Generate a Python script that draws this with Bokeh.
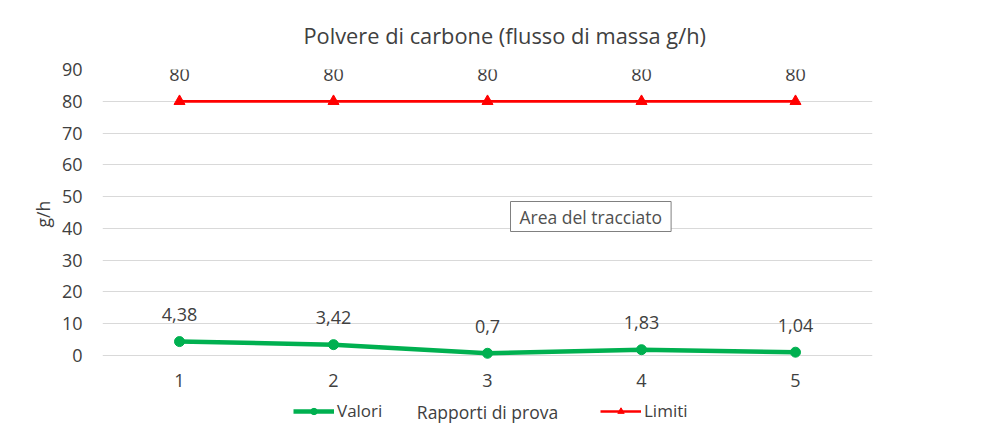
from bokeh.plotting import figure
from bokeh.models import ColumnDataSource, Legend, LegendItem, Label, Title
from bokeh.core.properties import value
from bokeh.embed import file_html
from bokeh.resources import INLINE

# ---- data ----
categories = ["1", "2", "3", "4", "5"]
valori = [4.38, 3.42, 0.7, 1.83, 1.04]
limiti = [80, 80, 80, 80, 80]
y_ticks = [0, 10, 20, 30, 40, 50, 60, 70, 80, 90]
title_text = "Polvere di carbone (flusso di massa g/h)"
x_title = "Rapporti di prova"
y_title = "g/h"
series_names = ["Valori", "Limiti"]
tooltip_text = "Area del tracciato"

def fmt(v):
    return ("%g" % v).replace(".", ",")

FONT = "Open Sans"
TXT = "#404040"
GREEN = "#00B050"
RED = "#FF0000"

# the plot frame is extended below 0 so that the legend row (Excel style,
# series entries around the axis title) can live inside it
Y_BOTTOM = -23.6

src_v = ColumnDataSource(dict(x=categories, y=valori, t=[fmt(v) for v in valori]))
src_l = ColumnDataSource(dict(x=categories, y=limiti, t=[fmt(v) for v in limiti]))
src_ticks = ColumnDataSource(dict(x=categories, y=[0] * len(categories), t=categories))

p = figure(x_range=categories, y_range=(Y_BOTTOM, 90), width=988, height=430,
           output_backend="svg", toolbar_location=None,
           min_border_left=102, min_border_right=116, min_border_top=69,
           min_border_bottom=0, title=title_text)
p.outline_line_color = None
p.background_fill_color = "white"
p.border_fill_color = "white"

p.title.text_font = FONT
p.title.text_font_size = "21.8px"
p.title.text_font_style = "normal"
p.title.text_color = TXT
p.title.align = "left"
p.title.offset = 201
p.title.standoff = 38
p.title.vertical_align = "middle"

# y axis
p.yaxis.ticker = y_ticks
p.yaxis.axis_line_color = None
p.yaxis.major_tick_line_color = None
p.yaxis.minor_tick_line_color = None
p.yaxis.major_label_standoff = 14
p.yaxis.major_label_text_font = FONT
p.yaxis.major_label_text_font_size = "18px"
p.yaxis.major_label_text_color = TXT

# y axis title, centred on the 0-90 part of the frame
p.add_layout(Title(text=y_title, align="left", offset=203, vertical_align="middle",
                   standoff=6, text_font=FONT, text_font_size="17.5px",
                   text_font_style="normal", text_color=TXT), "left")

# x axis: category labels drawn under the 0 line
p.xaxis.visible = False
p.xgrid.grid_line_color = None
p.ygrid.grid_line_color = "#d9d9d9"
p.ygrid.grid_line_width = 1

p.text("x", "y", text="t", source=src_ticks, text_align="center",
       text_baseline="middle", y_offset=25, text_font=value(FONT),
       text_font_size="18px", text_color=TXT)
p.add_layout(Label(x=385, y=19, x_units="screen", y_units="screen",
                   text=x_title, text_align="center", text_baseline="middle",
                   text_font=FONT, text_font_size="17.5px", text_color=TXT))

# series
lv = p.line("x", "y", source=src_v, line_color=GREEN, line_width=4.5)
sv = p.scatter("x", "y", source=src_v, marker="circle", size=10,
               fill_color=GREEN, line_color=GREEN)
ll = p.line("x", "y", source=src_l, line_color=RED, line_width=2.7)
sl = p.scatter("x", "y", source=src_l, marker="triangle", size=11,
               fill_color=RED, line_color=RED)

for s in (src_v, src_l):
    p.text("x", "y", text="t", source=s, text_align="center",
           text_baseline="middle", y_offset=-27, text_font=value(FONT),
           text_font_size="18px", text_color=TXT)

def make_legend(name, rs, loc):
    lg = Legend(items=[LegendItem(label=name, renderers=rs)], location=loc,
                orientation="horizontal", padding=0, margin=0, spacing=0,
                glyph_width=41, glyph_height=16, label_height=16,
                label_standoff=3, label_text_font=FONT,
                label_text_font_size="17px", label_text_color=TXT,
                border_line_color=None, background_fill_alpha=0)
    p.add_layout(lg, "center")

make_legend(series_names[0], [lv, sv], (191, 8))
make_legend(series_names[1], [ll, sl], (498, 8))

# Excel hover tooltip captured in the reference
shadow = Label(x=408, y=214, x_units="screen", y_units="screen", text=tooltip_text,
               text_font=FONT, text_font_size="17.5px", text_alpha=0,
               text_baseline="middle", padding=(9, 3), x_offset=3, y_offset=-3,
               background_fill_color="#a0a0a0", background_fill_alpha=0.5)
tip = Label(x=408, y=214, x_units="screen", y_units="screen", text=tooltip_text,
            text_font=FONT, text_font_size="17.5px", text_color="#505050",
            text_baseline="middle", padding=(9, 3),
            background_fill_color="white", border_line_color="#808080",
            border_line_width=1)
p.add_layout(shadow)
p.add_layout(tip)

open("out.html", "w").write(file_html(p, INLINE))
